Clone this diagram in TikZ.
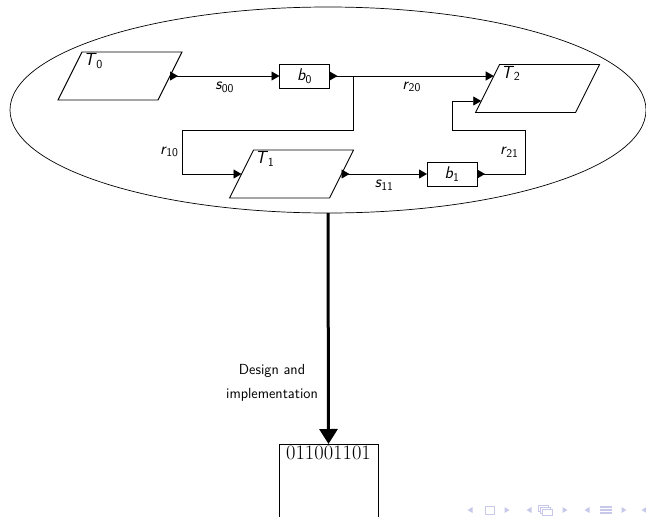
\documentclass[tikz,border=0pt]{standalone}
\usetikzlibrary{arrows.meta,shapes.geometric,calc}
\definecolor{navcol}{RGB}{200,200,234}
\newcommand{\vname}[2]{\textit{#1}\kern-0.5pt\textsubscript{#2}}
\begin{document}
\begin{tikzpicture}[x=1pt,y=-1pt,
  every node/.style={font=\sffamily},
  task/.style={draw, rectangle, minimum width=100pt, minimum height=48pt,
    inner sep=0pt, outer sep=0pt, line width=0.9pt, xslant=0.5, transform shape},
  tname/.style={anchor=north west, inner sep=1.5pt, font=\fontsize{17.5}{19}\selectfont\sffamily},
  buf/.style={draw, rectangle, minimum width=50pt, minimum height=24pt,
    inner sep=0pt, outer sep=0pt, line width=0.6pt, font=\fontsize{17}{19}\selectfont\sffamily},
  lbl/.style={inner sep=3pt, font=\fontsize{17}{19}\selectfont\sffamily},
  lblb/.style={lbl, below, inner sep=5.5pt},
  tipf/.tip={Triangle[length=8pt,width=9pt]},
  flow/.style={line width=0.9pt, {tipf[reversed]}-{tipf}},
  wire/.style={line width=0.9pt, -{tipf}},
]
\useasboundingbox (0,0) rectangle (646,517);
\clip (0,0) rectangle (646,517);

% the system boundary
\node[draw, ellipse, minimum width=636pt, minimum height=206pt, inner sep=0pt, outer sep=0pt,
      line width=0.7pt] (sys) at (328,110) {};

% tasks (slanted boxes)
\node[task] (T0) at (120,76) {};
\node[tname] at (T0.north west) {\vname{T}{0}};
\node[task] (T1) at (291.5,174) {};
\node[tname] at (T1.north west) {\vname{T}{1}};
\node[task] (T2) at (537.5,88.5) {};
\node[tname] at (T2.north west) {\vname{T}{2}};

% buffers
\node[buf] (b0) at (304.5,76) {\vname{b}{0}};
\node[buf] (b1) at (452,174) {\vname{b}{1}};

% entry points on the slanted side of T2
\coordinate (t2a) at ($(T2.south west)!0.76!(T2.north west)$);
\coordinate (t2b) at ($(T2.south west)!0.24!(T2.north west)$);
\coordinate (br) at ($(b0.east)+(24,0)$);
\coordinate (k1) at (182,130);
\coordinate (k2) at (525,130);
\coordinate (k3) at (452,101);

% channels
\draw[flow] (T0.east) -- node[lblb]{\vname{s}{00}} (b0.west);
\draw[flow] (b0.east) -- node[lblb]{\vname{r}{20}} (b0.east -| t2a);
\draw[wire] (br) |- (k1) |- node[lbl,pos=0.25,left]{\vname{r}{10}} (T1.west);
\draw[flow] (T1.east) -- node[lblb]{\vname{s}{11}} (b1.west);
\draw[flow] (b1.east) -| node[lbl,pos=0.75,left,xshift=-3pt]{\vname{r}{21}} (k2) -| (k3) -- (k3 -| t2b);

% implementation box
\node[draw, rectangle, minimum width=99pt, minimum height=120pt, anchor=north,
      inner sep=0pt, line width=0.8pt] (code) at (328.5,444) {};
\node[anchor=north, inner sep=2pt, font=\fontsize{20.5}{23}\selectfont\rmfamily] (bits)
      at (code.north) {011001101};

\draw[line width=3pt, -{Triangle[length=15pt,width=18pt]}] (sys.south) -- (code.north);
\node[align=center, font=\fontsize{14.6}{24}\selectfont\sffamily] (impl) at (272,383)
      {Design and\\implementation};

% navigation symbols
\foreach \x in {470,529,587,644}
  \fill[navcol] (\x+2.5,507) -- (\x+2.5,513) -- (\x-2.5,510) -- cycle;
\foreach \x in {507,565,624}
  \fill[navcol] (\x-2.5,507) -- (\x-2.5,513) -- (\x+2.5,510) -- cycle;
\draw[navcol, line width=1pt] (485,506) rectangle (494,514);
\foreach \d in {0,2,4}
  \draw[navcol, line width=1pt, fill=white] (538+\d,505.5+\d) rectangle (548+\d,511.5+\d);
\foreach \yy in {507,510,513}
  \draw[navcol, line width=1.2pt] (600,\yy) -- (612,\yy);
\end{tikzpicture}
\end{document}
